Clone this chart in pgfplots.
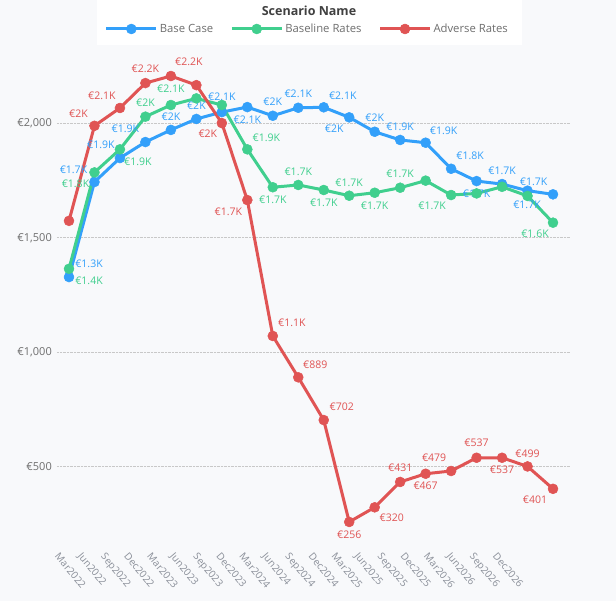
\documentclass[border=0pt]{standalone}
\usepackage{fontspec}
\setmainfont{Open Sans}
\usepackage{pgfplots}
\usepackage{pgfplotstable}
\pgfplotsset{compat=1.18}
\definecolor{bgc}{HTML}{F8F9FB}
\definecolor{cblue}{HTML}{33A0FA}
\definecolor{cgreen}{HTML}{40CF8E}
\definecolor{cred}{HTML}{E05454}
\definecolor{tickc}{HTML}{6E6E6E}
\definecolor{xtickc}{HTML}{8A8F99}
\definecolor{gridc}{HTML}{C8C8C8}

\pgfplotstableread{
x y lab dx dy
0 1328 €1.3K 20 13
1 1744 €1.7K -21 12
2 1849 €1.9K -19 13
3 1919 €1.9K -20 13
4 1972 €2K 0 13
5 2020 €2K 0 13
6 2050 €2.1K 0 15
7 2072 €2.1K 0 -13
8 2034 €2K 0 14
9 2069 €2.1K 0 14
10 2071 €2.1K 19 12
11 2027 €2K -15 -11
12 1964 €2K 0 14
13 1928 €1.9K 0 13
14 1916 €1.9K 18 12
15 1802 €1.8K 19 13
16 1748 €1.7K 0 -13
17 1735 €1.7K 0 13
18 1706 €1.7K 6 9
19 1690 €1.7K -26 -10
}\tblue

\pgfplotstableread{
x y lab dx dy
0 1364 €1.4K 20 -12
1 1786 €1.8K -19 -11
2 1887 €1.9K 18 -12
3 2030 €2K 0 14
4 2081 €2.1K 0 16
5 2110 {} 0 0
6 2081 {} 0 0
7 1887 €1.9K 19 12
8 1721 €1.7K 0 -13
9 1731 €1.7K 0 13
10 1709 €1.7K 0 -13
11 1684 €1.7K 0 13
12 1697 €1.7K 0 -13
13 1719 €1.7K 0 14
14 1750 {} 0 0
15 1687 €1.7K -19 -11
16 1694 {} 0 0
17 1723 {} 0 0
18 1683 {} 0 0
19 1566 €1.6K -18 -11
}\tgreen

\pgfplotstableread{
x y lab dx dy
0 1574 {} 0 0
1 1990 €2K -16 12
2 2068 €2.1K -18 12
3 2177 €2.2K 0 14
4 2208 €2.2K 18 14
5 2168 {} 0 0
6 2002 €2K -14 -11
7 1665 €1.7K -19 -12
8 1070 €1.1K 19 13
9 889 €889 17 13
10 702 €702 18 13
11 256 €256 0 -13
12 320 €320 17 -10
13 431 €431 0 14
14 467 €467 0 -12
15 479 €479 -17 13
16 537 €537 0 15
17 537 €537 0 -12
18 499 €499 0 13
19 401 €401 -18 -11
}\tred

\begin{document}
\begin{tikzpicture}[x=1pt,y=1pt]
\fill[bgc] (0,0) rectangle (616,601);
\fill[white] (97,556) rectangle (522,601);
\node[font=\fontsize{12.5}{14}\selectfont\bfseries, text=black!75] at (309,590) {Scenario Name};
\begin{axis}[
  at={(57pt,61pt)}, anchor=south west,
  scale only axis, width=513pt, height=485pt,
  xmin=-0.471, xmax=19.667, ymin=177, ymax=2300,
  clip=false,
  axis line style={draw=none},
  major tick length=0pt,
  ymajorgrids,
  grid style={densely dotted, gridc, line width=0.7pt},
  ytick={500,1000,1500,2000},
  yticklabels={€500,{€1,000},{€1,500},{€2,000}},
  yticklabel style={anchor=east, inner sep=0pt, xshift=-5pt, font=\fontsize{11}{13}\selectfont, text=tickc},
  xtick={-0.353,0.552,1.457,2.362,3.267,4.172,5.077,5.982,6.887,7.792,8.697,9.602,10.507,11.412,12.317,13.222,14.127,15.032,15.937,16.842},
  xticklabels={Mar2022,Jun2022,Sep2022,Dec2022,Mar2023,Jun2023,Sep2023,Dec2023,Mar2024,Jun2024,Sep2024,Dec2024,Mar2025,Jun2025,Sep2025,Dec2025,Mar2026,Jun2026,Sep2026,Dec2026},
  xticklabel style={anchor=north west, inner sep=0pt, yshift=-12pt, rotate=-50, font=\fontsize{10}{12}\selectfont, text=xtickc},
  legend columns=3,
  legend style={at={(0.488,1.0536)}, anchor=center, draw=none, fill=none,
    font=\fontsize{11.3}{13}\selectfont, text=tickc,
    /tikz/every even column/.append style={column sep=15pt}},
  legend image code/.code={\draw[mark repeat=2,mark phase=2,#1] plot coordinates {(0pt,0pt) (25pt,0pt) (50pt,0pt)};},
  every axis plot/.append style={line width=3pt, line join=round, mark=*, mark size=5pt},
]
\addplot[color=cblue, mark options={line width=0.5pt, fill=cblue},
  nodes near coords, point meta=explicit symbolic,
  visualization depends on={\thisrow{dx}\as\dx},
  visualization depends on={\thisrow{dy}\as\dy},
  nodes near coords style={anchor=center, inner sep=0pt, xshift=\dx pt, yshift=\dy pt, font=\fontsize{10.5}{12}\selectfont, text=cblue}]
  table[x=x,y=y,meta=lab] {\tblue};
\addlegendentry{Base Case}
\addplot[color=cgreen, mark options={line width=0.5pt, fill=cgreen},
  nodes near coords, point meta=explicit symbolic,
  visualization depends on={\thisrow{dx}\as\dx},
  visualization depends on={\thisrow{dy}\as\dy},
  nodes near coords style={anchor=center, inner sep=0pt, xshift=\dx pt, yshift=\dy pt, font=\fontsize{10.5}{12}\selectfont, text=cgreen}]
  table[x=x,y=y,meta=lab] {\tgreen};
\addlegendentry{Baseline Rates}
\addplot[color=cred, mark options={line width=0.5pt, fill=cred},
  nodes near coords, point meta=explicit symbolic,
  visualization depends on={\thisrow{dx}\as\dx},
  visualization depends on={\thisrow{dy}\as\dy},
  nodes near coords style={anchor=center, inner sep=0pt, xshift=\dx pt, yshift=\dy pt, font=\fontsize{10.5}{12}\selectfont, text=cred}]
  table[x=x,y=y,meta=lab] {\tred};
\addlegendentry{Adverse Rates}
\end{axis}
\end{tikzpicture}
\end{document}
